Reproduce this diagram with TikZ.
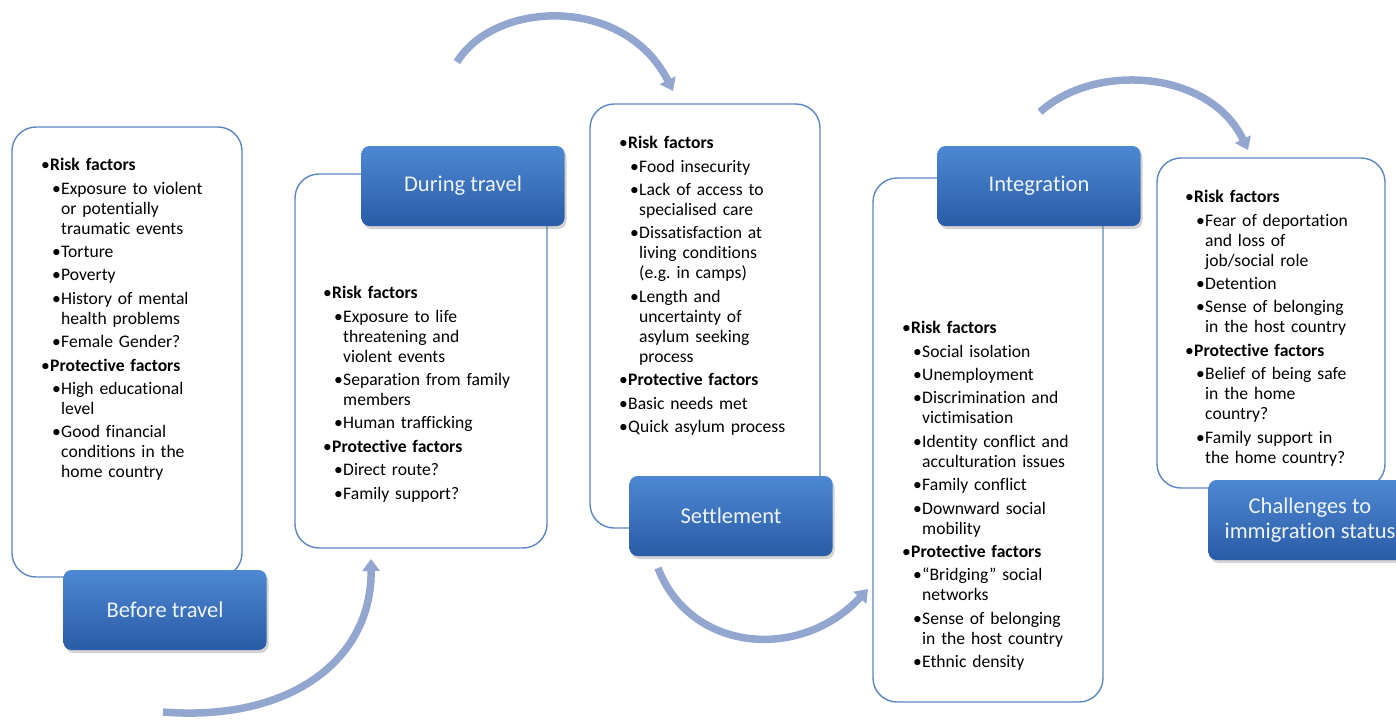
\documentclass[tikz,border=0pt]{standalone}
\usepackage{fontspec}
\setmainfont{Carlito}[Ligatures=NoCommon]
\usepackage{xcolor}
\usepackage{tikz}
\usetikzlibrary{arrows.meta,shadows}

\definecolor{panelblue}{HTML}{5B86C3}
\definecolor{lbltop}{HTML}{4E88D2}
\definecolor{lblbot}{HTML}{2A5BA6}
\definecolor{arrowblue}{HTML}{93A6D0}
\definecolor{lbltext}{HTML}{EEF3FA}

\newcommand{\hd}[1]{\par\noindent\hangindent=9pt\hangafter=1\makebox[9pt][l]{\textbullet}#1\par}
\newcommand{\itm}[1]{\par\noindent\hangindent=20pt\hangafter=1\hspace*{11pt}\makebox[9pt][l]{\textbullet}#1\par}

\begin{document}
\begin{tikzpicture}[x=1pt,y=-1pt,thin]

                \tikzset{panel/.style={draw=panelblue, line width=1.4pt, fill=white, rounded corners=24pt},
                         phase/.style={rounded corners=8pt, top color=lbltop, bottom color=lblbot, draw=none,
                                       minimum width=203pt, minimum height=80pt, text=lbltext, align=center,
                                       font=\fontsize{22.5}{25}\selectfont, drop shadow={opacity=0.35, shadow xshift=2pt, shadow yshift=-3pt}},
                         factors/.style={anchor=north west, inner sep=0pt, text width=230pt,
                                         font=\fontsize{17.6}{20}\selectfont\frenchspacing\setlength{\parskip}{3.4pt}\raggedright},
                         flow/.style={line width=7.5pt, draw=arrowblue, -{Triangle[width=17pt,length=12pt]}}}

                \useasboundingbox (0,0) rectangle (1396,724);
                \clip (0,0) rectangle (1396,724);

                \node[panel, minimum width=230pt, minimum height=450pt] (before) at (127,352) {};
                \node[panel, minimum width=252pt, minimum height=374pt] (during) at (421,361) {};
                \node[panel, minimum width=230pt, minimum height=424pt] (settle) at (705,316) {};
                \node[panel, minimum width=230pt, minimum height=524pt] (integ) at (988,440) {};
                \node[panel, minimum width=228pt, minimum height=330pt] (chall) at (1271,323) {};

                \node[factors] (beforeTxt) at (41,147) {
                    \hd{\textbf{Risk factors}}
                    \itm{Exposure to violent\newline or potentially\newline traumatic events}
                    \itm{Torture}
                    \itm{Poverty}
                    \itm{History of mental\newline health problems}
                    \itm{Female Gender?}
                    \hd{\textbf{Protective factors}}
                    \itm{High educational\newline level}
                    \itm{Good financial\newline conditions in the\newline home country}};

                \node[factors] (duringTxt) at (323,275) {
                    \hd{\textbf{Risk factors}}
                    \itm{Exposure to life\newline threatening and\newline violent events}
                    \itm{Separation from family\newline members}
                    \itm{Human trafficking}
                    \hd{\textbf{Protective factors}}
                    \itm{Direct route?}
                    \itm{Family support?}};

                \node[factors] (settleTxt) at (619,125) {
                    \hd{\textbf{Risk factors}}
                    \itm{Food insecurity}
                    \itm{Lack of access to\newline specialised care}
                    \itm{Dissatisfaction at\newline living conditions\newline (e.g. in camps)}
                    \itm{Length and\newline uncertainty of\newline asylum seeking\newline process}
                    \hd{\textbf{Protective factors}}
                    \hd{Basic needs met}
                    \hd{Quick asylum process}};

                \node[factors] (integTxt) at (902,310) {
                    \hd{\textbf{Risk factors}}
                    \itm{Social isolation}
                    \itm{Unemployment}
                    \itm{Discrimination and\newline victimisation}
                    \itm{Identity conflict and\newline acculturation issues}
                    \itm{Family conflict}
                    \itm{Downward social\newline mobility}
                    \hd{\textbf{Protective factors}}
                    \itm{“Bridging” social\newline networks}
                    \itm{Sense of belonging\newline in the host country}
                    \itm{Ethnic density}};

                \node[factors] (challTxt) at (1185,179) {
                    \hd{\textbf{Risk factors}}
                    \itm{Fear of deportation\newline and loss of\newline job/social role}
                    \itm{Detention}
                    \itm{Sense of belonging\newline in the host country}
                    \hd{\textbf{Protective factors}}
                    \itm{Belief of being safe\newline in the home\newline country?}
                    \itm{Family support in\newline the home country?}};

                \node[phase] (beforeLbl) at (165,610) {Before travel};
                \node[phase] (duringLbl) at (463,186) {During travel};
                \node[phase] (settleLbl) at (731,516) {Settlement};
                \node[phase] (integLbl) at (1039,186) {Integration};
                \node[phase] (challLbl) at (1310,520) {Challenges to\\immigration status};

                \coordinate (f1s) at (163,712);
                \coordinate (f1e) at (371,559);
                \coordinate (f2s) at (457,62);
                \coordinate (f2e) at (673,91);
                \coordinate (f3s) at (658,568);
                \coordinate (f3e) at (868,589);
                \coordinate (f4s) at (1040,112);
                \coordinate (f4e) at (1248,150);

                \draw[flow] (f1s) .. controls (290,722) and (372,660) .. (f1e);
                \draw[flow] (f2s) .. controls (495,0) and (625,-5) .. (f2e);
                \draw[flow] (f3s) .. controls (690,652) and (800,662) .. (f3e);
                \draw[flow] (f4s) .. controls (1095,62) and (1210,70) .. (f4e);
            \end{tikzpicture}
\end{document}
